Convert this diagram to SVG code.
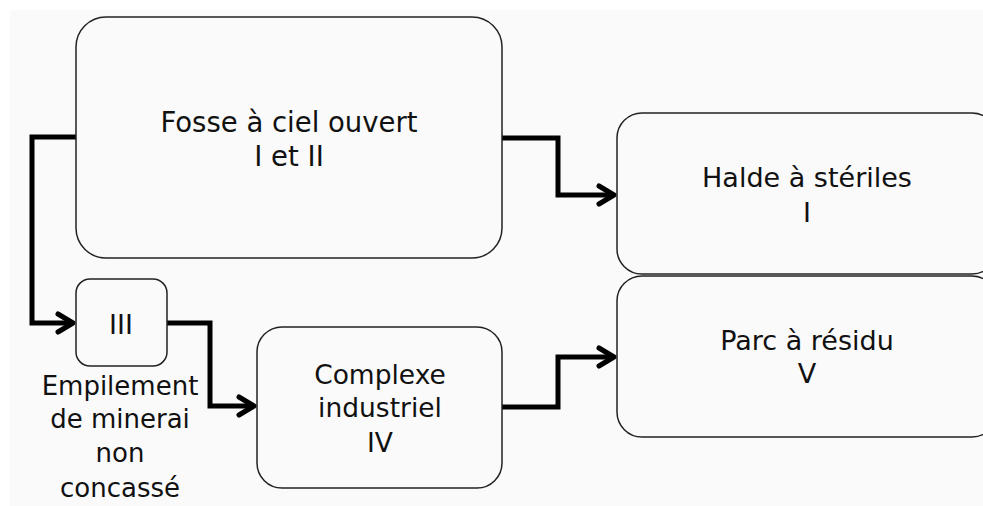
<svg xmlns="http://www.w3.org/2000/svg" width="983" height="506" viewBox="0 0 983 506">
<defs>
<style>
.box{fill:#fafafa;stroke:#222;stroke-width:1.5}
.t{font-family:"DejaVu Sans",Verdana,sans-serif;fill:#111;text-anchor:middle}
.c{fill:none;stroke:#000;stroke-width:5;stroke-linejoin:miter}
</style>
<marker id="arr" markerUnits="userSpaceOnUse" viewBox="-20 -14 24 28" markerWidth="24" markerHeight="28" refX="0" refY="0" orient="auto">
<path d="M-15,-9 L0,0 L-15,9" fill="none" stroke="#000" stroke-width="5" stroke-linejoin="round" stroke-linecap="round"/>
</marker>
</defs>
<rect x="0" y="0" width="983" height="506" fill="#fff"/>
<rect x="10" y="10" width="973" height="496" fill="#fafafa"/>
<g id="connectors">
<path class="c" d="M76,137 H32 V323 H73" marker-end="url(#arr)"/>
<path class="c" d="M167,323 H210 V406 H254" marker-end="url(#arr)"/>
<path class="c" d="M502,138 H558 V195 H614" marker-end="url(#arr)"/>
<path class="c" d="M502,407 H558 V357 H614" marker-end="url(#arr)"/>
</g>
<g id="fosse">
<rect class="box" x="76" y="17" width="426" height="241" rx="30"/>
<text class="t" font-size="27.5" x="289" y="132">Fosse à ciel ouvert</text>
<text class="t" font-size="27.5" x="289" y="166">I et II</text>
</g>
<g id="halde">
<rect class="box" x="617" y="113" width="380" height="161" rx="25"/>
<text class="t" font-size="27" x="807" y="187">Halde à stériles</text>
<text class="t" font-size="27" x="807" y="222">I</text>
</g>
<g id="parc">
<rect class="box" x="617" y="276" width="380" height="161" rx="25"/>
<text class="t" font-size="27" x="807" y="350">Parc à résidu</text>
<text class="t" font-size="27" x="807" y="383">V</text>
</g>
<g id="empilement">
<rect class="box" x="76" y="279" width="91" height="87" rx="14"/>
<text class="t" font-size="27" x="121" y="334">III</text>
<text class="t" font-size="26" x="120" y="395">Empilement</text>
<text class="t" font-size="26" x="120" y="428">de minerai</text>
<text class="t" font-size="26" x="120" y="462">non</text>
<text class="t" font-size="26" x="120" y="497">concassé</text>
</g>
<g id="complexe">
<rect class="box" x="257" y="327" width="245" height="161" rx="25"/>
<text class="t" font-size="26.5" x="380" y="384">Complexe</text>
<text class="t" font-size="26.5" x="380" y="417">industriel</text>
<text class="t" font-size="26.5" x="380" y="452">IV</text>
</g>
</svg>
